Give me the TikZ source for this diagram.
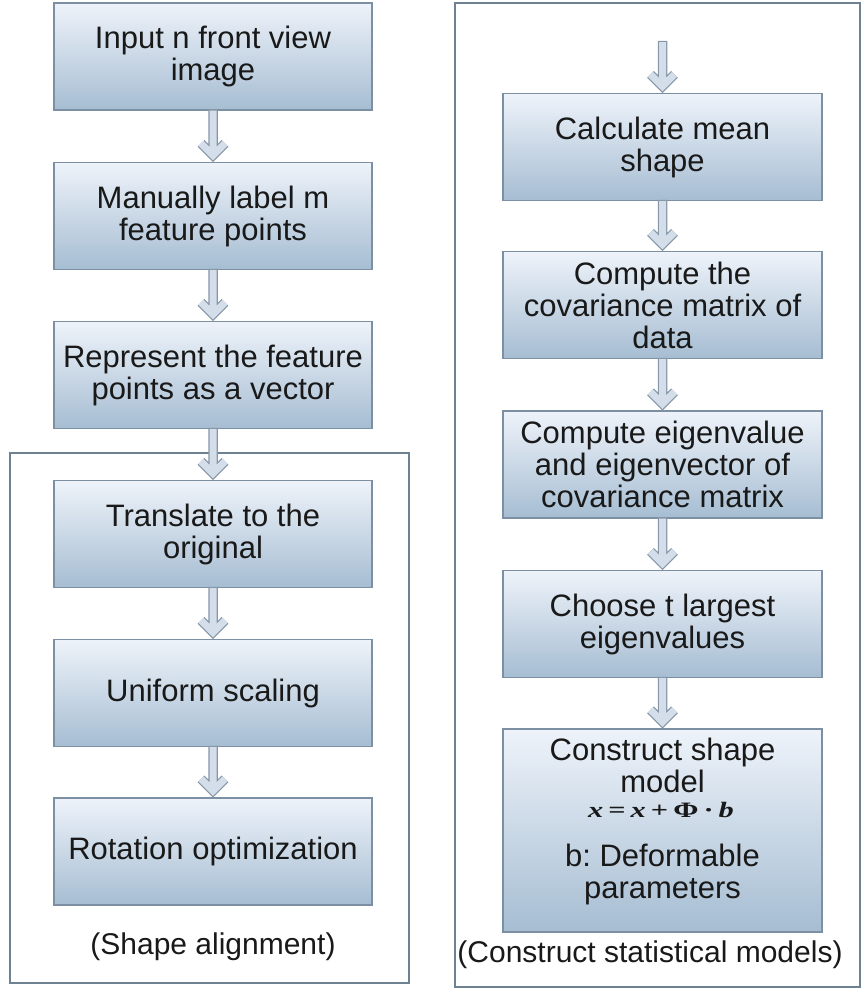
\documentclass[tikz,border=0pt]{standalone}
\usepackage{fontspec}
\usepackage{graphicx}
\setmainfont{Liberation Sans}
\newfontfamily\formfont{Liberation Serif}
\frenchspacing
\usetikzlibrary{calc}
\definecolor{boxtop}{HTML}{EEF3FA}
\definecolor{boxbot}{HTML}{A6BDD2}
\definecolor{boxline}{HTML}{7D90A3}
\definecolor{frameline}{HTML}{6F8294}
\definecolor{arrline}{HTML}{8797A8}
\definecolor{arrfill}{HTML}{D3DEEA}
\tikzset{
  stepbox/.style={draw=boxline, line width=1.2pt, top color=boxtop, bottom color=boxbot,
    minimum width=318pt, minimum height=107pt, inner sep=0pt, align=center,
    font=\fontsize{31}{32}\selectfont, text=black!90},
  intext/.style={anchor=base, inner sep=0pt, font=\fontsize{31}{32}\selectfont, text=black!90},
  lab/.style={inner sep=0pt, font=\fontsize{30}{32}\selectfont, text=black!90},
  framebox/.style={draw=frameline, line width=2pt},
  arrout/.style={draw=arrline, line width=9.5pt, line join=miter},
  arrin/.style={draw=arrfill, line width=7pt, line join=miter},
}
\newcommand{\flowarrow}[2]{%
  \coordinate (tipc) at ($(#2)+(0,-6.5)$);
  \draw[arrout] ($(#1)+(0,-1.2)$) -- (tipc) ($(tipc)+(-12,-12)$) -- (tipc) -- ($(tipc)+(12,-12)$);
  \draw[arrin] (#1) -- (tipc) ($(tipc)+(-12,-12)$) -- (tipc) -- ($(tipc)+(12,-12)$);
}
\begin{document}
\begin{tikzpicture}[x=1pt,y=-1pt]
\useasboundingbox (0,0) rectangle (862,989);
% frames
\draw[framebox] (10,453) rectangle (409,983);
\draw[framebox] (455,3) rectangle (860,987);
% left column
\node[stepbox] (l1) at (213,56.5) {Input n front view\\image};
\node[stepbox] (l2) at (213,216) {Manually label m\\feature points};
\node[stepbox] (l3) at (213,375) {Represent the feature\\points as a vector};
\node[stepbox] (l4) at (213,534) {Translate to the\\original};
\node[stepbox] (l5) at (213,693) {Uniform scaling};
\node[stepbox] (l6) at (213,851.5) {Rotation optimization};
\node[lab] (lab1) at (213,947) {(Shape alignment)};
% right column
\node[stepbox, minimum width=319pt] (r1) at (662.5,147) {Calculate mean\\shape};
\node[stepbox, minimum width=319pt] (r2) at (662.5,305) {Compute the\\covariance matrix of\\data};
\node[stepbox, minimum width=319pt] (r3) at (662.5,464.5) {Compute eigenvalue\\and eigenvector of\\covariance matrix};
\node[stepbox, minimum width=319pt] (r4) at (662.5,624) {Choose t largest\\eigenvalues};
\node[stepbox, minimum width=319pt, minimum height=203pt] (r5) at (662.5,830.5) {};
\node[intext] (r5a) at (662.5,760) {Construct shape};
\node[intext] (r5b) at (662.5,792) {model};
\node[intext, font=\fontsize{22}{24}\formfont\bfseries] (r5c) at (661,817)
  {\scalebox{1.38}[1]{\textit{x}\,=\,\textit{x}\,+\,Φ\,·\,\textit{b}}};
\node[intext] (r5d) at (662.5,866) {b: Deformable};
\node[intext] (r5e) at (662.5,898) {parameters};
\node[lab] (lab2) at (650,955) {(Construct statistical models)};
% arrows
\coordinate (rtop) at (662.5,42);
\flowarrow{l1.south}{l2.north}
\flowarrow{l2.south}{l3.north}
\flowarrow{l3.south}{l4.north}
\flowarrow{l4.south}{l5.north}
\flowarrow{l5.south}{l6.north}
\flowarrow{rtop}{r1.north}
\flowarrow{r1.south}{r2.north}
\flowarrow{r2.south}{r3.north}
\flowarrow{r3.south}{r4.north}
\flowarrow{r4.south}{r5.north}
\end{tikzpicture}
\end{document}
